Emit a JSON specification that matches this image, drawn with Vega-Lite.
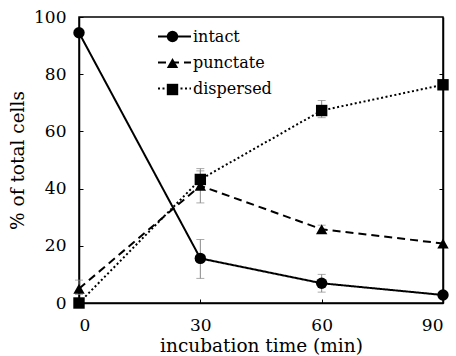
{
  "$schema": "https://vega.github.io/schema/vega-lite/v6.json",
  "width": 364,
  "height": 286,
  "autosize": {"type": "none"},
  "padding": {"left": 79, "top": 17, "right": 13, "bottom": 53},
  "background": "white",
  "config": {
    "font": "DejaVu Serif",
    "view": {"stroke": "black", "strokeWidth": 1.5},
    "legend": {"labelFont": "DejaVu Serif"},
    "axis": {
      "grid": false,
      "domainColor": "black",
      "domainWidth": 1.5,
      "tickColor": "black",
      "tickWidth": 1,
      "labelColor": "black",
      "titleColor": "black",
      "labelFont": "DejaVu Serif",
      "titleFont": "DejaVu Serif",
      "labelFontSize": 17,
      "titleFontSize": 18.5,
      "titleFontWeight": "normal"
    }
  },
  "datasets": {
    "pts": [
      {"series": "intact", "t": 0, "v": 94.5},
      {"series": "intact", "t": 30, "v": 15.6},
      {"series": "intact", "t": 60, "v": 6.9},
      {"series": "intact", "t": 90, "v": 2.8},
      {"series": "punctate", "t": 0, "v": 5.0},
      {"series": "punctate", "t": 30, "v": 41.0},
      {"series": "punctate", "t": 60, "v": 25.8},
      {"series": "punctate", "t": 90, "v": 20.8},
      {"series": "dispersed", "t": 0, "v": 0.0},
      {"series": "dispersed", "t": 30, "v": 43.2},
      {"series": "dispersed", "t": 60, "v": 67.3},
      {"series": "dispersed", "t": 90, "v": 76.3}
    ],
    "err": [
      {"series": "intact", "t": 30, "lo": 8.6, "hi": 22.2},
      {"series": "intact", "t": 60, "lo": 3.8, "hi": 10.0},
      {"series": "punctate", "t": 0, "lo": 3.0, "hi": 8.0},
      {"series": "punctate", "t": 30, "lo": 35.0, "hi": 47.0},
      {"series": "punctate", "t": 60, "lo": 24.5, "hi": 27.2},
      {"series": "dispersed", "t": 30, "lo": 40.0, "hi": 46.2},
      {"series": "dispersed", "t": 60, "lo": 64.8, "hi": 70.8}
    ],
    "rt": [{"v": 0}]
  },
  "layer": [
    {
      "data": {"name": "err"},
      "mark": {"type": "errorbar", "ticks": {"size": 8, "color": "#888888"}, "rule": {"color": "#888888", "strokeWidth": 1}},
      "encoding": {
        "x": {"field": "t", "type": "quantitative", "scale": {"domain": [0, 90], "nice": false, "zero": false},
              "axis": {"orient": "bottom", "values": [0, 30, 60, 90], "tickSize": -4, "labelPadding": 18, "title": "incubation time (min)", "titlePadding": 3}},
        "y": {"field": "lo", "type": "quantitative", "scale": {"domain": [0, 100], "nice": false},
              "axis": {"orient": "left", "values": [0, 20, 40, 60, 80, 100], "tickSize": -4, "labelPadding": 17, "title": "% of total cells", "titlePadding": 6}},
        "y2": {"field": "hi"}
      }
    },
    {
      "data": {"name": "pts"},
      "mark": {"type": "line", "color": "black", "strokeWidth": 2},
      "encoding": {
        "x": {"field": "t", "type": "quantitative"},
        "y": {"field": "v", "type": "quantitative", "axis": null},
        "strokeDash": {
          "field": "series", "type": "nominal",
          "sort": ["intact", "punctate", "dispersed"],
          "scale": {"range": [[1, 0], [8, 5], [2, 2.5]]},
          "legend": {
            "orient": "none", "legendX": 78, "legendY": 2, "title": null,
            "symbolType": "stroke", "symbolSize": 1089, "symbolStrokeWidth": 2, "symbolStrokeColor": "black",
            "labelFontSize": 16, "labelColor": "black", "labelOffset": 1, "rowPadding": -0.5
          }
        }
      }
    },
    {
      "data": {"name": "pts"},
      "mark": {"type": "point", "filled": true, "color": "black", "opacity": 1, "size": 130},
      "encoding": {
        "x": {"field": "t", "type": "quantitative"},
        "y": {"field": "v", "type": "quantitative", "axis": null},
        "shape": {
          "field": "series", "type": "nominal",
          "scale": {"domain": ["intact", "punctate", "dispersed"], "range": ["circle", "triangle-up", "square"]},
          "legend": {
            "orient": "none", "legendX": 87, "legendY": 13, "title": null,
            "symbolSize": 130, "symbolFillColor": "black", "symbolStrokeColor": "black",
            "labelExpr": "''", "labelFontSize": 1, "labelOffset": 0, "rowPadding": 8.5
          }
        }
      }
    },
    {
      "data": {"name": "rt"},
      "mark": {"type": "rule", "opacity": 0},
      "encoding": {
        "y": {"field": "v", "type": "quantitative",
              "axis": {"orient": "right", "values": [20, 40, 60, 80], "tickSize": -4, "labels": false, "title": null}}
      }
    }
  ],
  "resolve": {"axis": {"y": "independent"}}
}
